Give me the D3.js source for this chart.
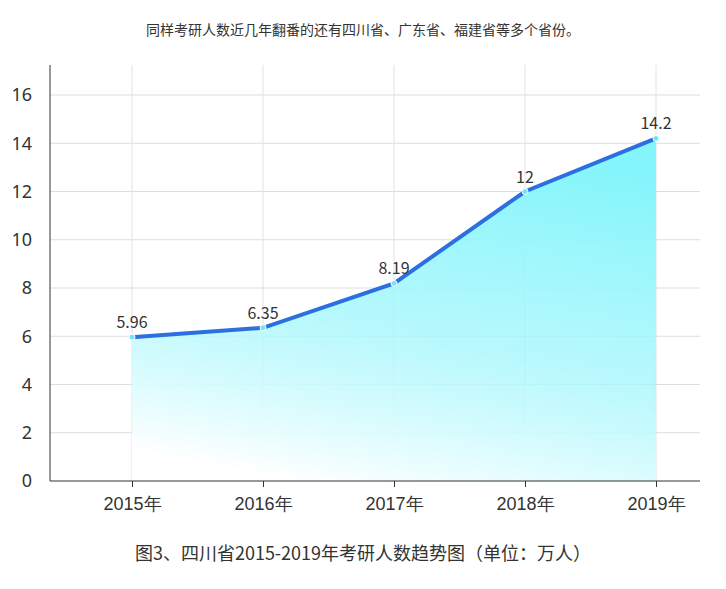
<!DOCTYPE html>
<html><head><meta charset="utf-8">
<script src="https://cdn.jsdelivr.net/npm/d3@7"></script>
<style>body{margin:0;background:#fff;font-family:"Noto Sans CJK SC","Noto Sans",sans-serif;}</style>
</head><body><svg id="c" width="726" height="589"></svg>
<script>
const categories = ["2015年","2016年","2017年","2018年","2019年"];
const values = [5.96, 6.35, 8.19, 12, 14.2];
const valueLabels = ["5.96","6.35","8.19","12","14.2"];
const yTicks = [0,2,4,6,8,10,12,14,16];

(function(){
const svg = d3.select("#c");
const mL=50,mR=700,mT=65,mB=481;
const x = d3.scalePoint().domain(categories).range([132,656]);
const y = d3.scaleLinear().domain([0,16]).range([mB,95]);

const defs = svg.append("defs");
const g = defs.append("linearGradient").attr("id","ag").attr("x1","0.6").attr("y1","0").attr("x2","0.3").attr("y2","1");
g.append("stop").attr("offset","0").attr("stop-color","#7ef5fb").attr("stop-opacity",0.95);
g.append("stop").attr("offset","0.55").attr("stop-color","#a6f7fc").attr("stop-opacity",0.8);
g.append("stop").attr("offset","1").attr("stop-color","#ffffff").attr("stop-opacity",1);

svg.append("text").attr("x",363).attr("y",35).attr("text-anchor","middle").attr("font-size",14).attr("fill","#333")
  .text("同样考研人数近几年翻番的还有四川省、广东省、福建省等多个省份。");

svg.append("g").selectAll("line").data(yTicks.slice(1)).join("line")
  .attr("x1",mL).attr("x2",mR).attr("y1",d=>y(d)).attr("y2",d=>y(d)).attr("stroke","#ddd");
svg.append("g").selectAll("line").data(categories).join("line")
  .attr("x1",d=>x(d)).attr("x2",d=>x(d)).attr("y1",mT).attr("y2",mB).attr("stroke","#e2e2e2");

const data = categories.map((c,i)=>({c,v:values[i],l:valueLabels[i]}));
svg.append("path").datum(data).attr("fill","url(#ag)")
  .attr("d",d3.area().x(d=>x(d.c)).y0(mB).y1(d=>y(d.v)));
svg.append("path").datum(data).attr("fill","none").attr("stroke","#2b6fe0").attr("stroke-width",4).attr("stroke-linecap","round")
  .attr("d",d3.line().x(d=>x(d.c)).y(d=>y(d.v)));
svg.append("g").selectAll("circle").data(data).join("circle")
  .attr("cx",d=>x(d.c)).attr("cy",d=>y(d.v)).attr("r",3).attr("fill","#6ee8f5").attr("stroke","#fff").attr("stroke-width",1);
svg.append("g").selectAll("text").data(data).join("text")
  .attr("x",d=>x(d.c)).attr("y",d=>y(d.v)-9).attr("text-anchor","middle").attr("font-size",16).attr("fill","#333").text(d=>d.l);

const ya = svg.append("g").attr("transform",`translate(${mL},0)`).call(d3.axisLeft(y).tickValues(yTicks).tickSize(0).tickPadding(18));
ya.select(".domain").remove();
ya.selectAll("text").attr("font-size",18).attr("fill","#333").attr("font-family","Noto Sans, sans-serif");
svg.append("line").attr("x1",mL).attr("x2",mL).attr("y1",mT).attr("y2",mB).attr("stroke","#333");
const xa = svg.append("g").attr("transform",`translate(0,${mB})`).call(d3.axisBottom(x).tickSize(6).tickPadding(10));
xa.select(".domain").remove();
xa.selectAll("line").attr("stroke","#333");
xa.selectAll("text").attr("font-size",18).attr("fill","#333");
svg.append("line").attr("x1",mL).attr("x2",mR).attr("y1",mB).attr("y2",mB).attr("stroke","#333");

svg.append("text").attr("x",363).attr("y",560).attr("text-anchor","middle").attr("font-size",18).attr("fill","#333")
  .text("图3、四川省2015-2019年考研人数趋势图（单位：万人）");
})();
</script></body></html>
